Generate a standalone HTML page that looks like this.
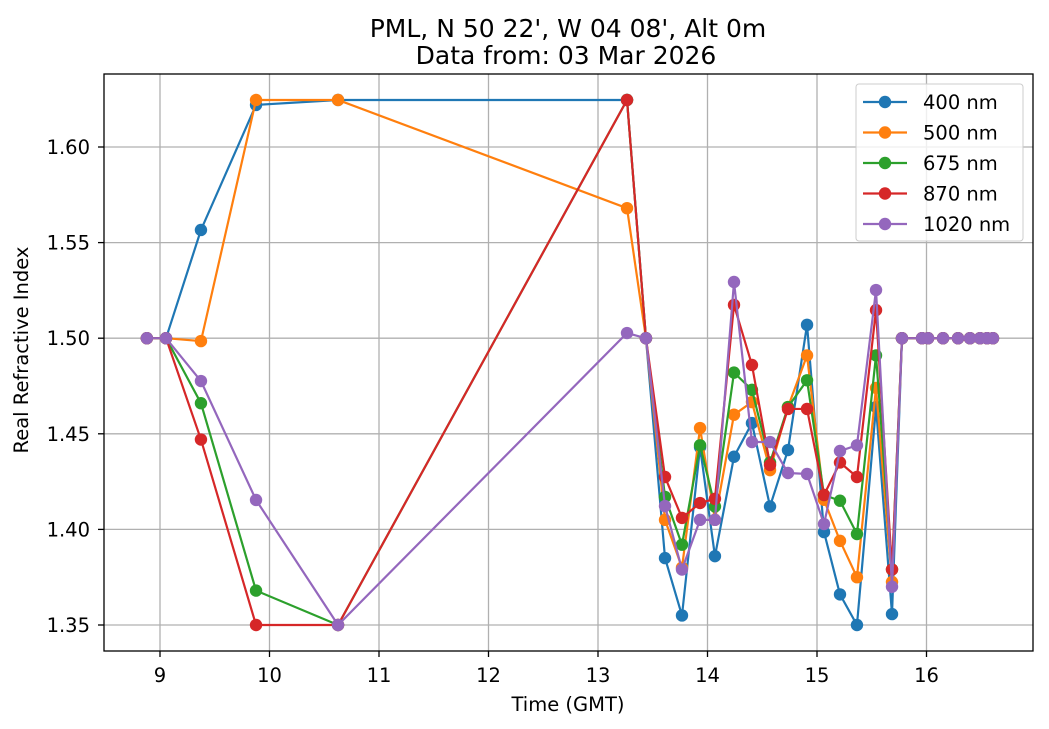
<!DOCTYPE html>
<html><head><meta charset="utf-8"><style>
body{margin:0;background:#fff;}
svg{display:block;font-family:"DejaVu Sans","Liberation Sans",sans-serif;}
</style></head><body>
<svg id="chart" width="1049" height="729">
<rect width="1049" height="729" fill="#fff"/>
<g id="grid"></g>
<g id="series"></g>
<rect x="104" y="74" width="929" height="577" fill="none" stroke="#000" stroke-width="1.3"/>
<g id="ticks"></g>
<text x="568" y="37" text-anchor="middle" font-size="25">PML, N 50 22', W 04 08', Alt 0m</text>
<text x="566" y="64" text-anchor="middle" font-size="25">Data from: 03 Mar 2026</text>
<text x="568" y="711" text-anchor="middle" font-size="19.5">Time (GMT)</text>
<text transform="translate(28,350) rotate(-90)" text-anchor="middle" font-size="19.5">Real Refractive Index</text>
<g id="legend"></g>
</svg>
<script>
const times=[8.88,9.055,9.374,9.877,10.626,13.265,13.438,13.612,13.767,13.932,14.068,14.242,14.406,14.571,14.735,14.909,15.064,15.21,15.365,15.539,15.685,15.776,15.959,16.014,16.151,16.288,16.397,16.489,16.553,16.607];
const s400=[1.5,1.5,1.5566,1.622,1.6246,1.6246,1.5,1.385,1.355,1.443,1.386,1.438,1.4556,1.412,1.4415,1.507,1.3986,1.366,1.35,1.464,1.3557,1.5,1.5,1.5,1.5,1.5,1.5,1.5,1.5,1.5];
const s500=[1.5,1.5,1.4985,1.6246,1.6246,1.568,1.5,1.405,1.38,1.453,1.405,1.46,1.4666,1.431,1.464,1.491,1.4155,1.394,1.375,1.474,1.3725,1.5,1.5,1.5,1.5,1.5,1.5,1.5,1.5,1.5];
const s675=[1.5,1.5,1.466,1.368,1.35,1.6246,1.5,1.417,1.392,1.444,1.412,1.482,1.473,1.435,1.464,1.478,1.418,1.415,1.3976,1.491,1.379,1.5,1.5,1.5,1.5,1.5,1.5,1.5,1.5,1.5];
const s870=[1.5,1.5,1.447,1.35,1.35,1.6246,1.5,1.4274,1.406,1.4138,1.416,1.5174,1.486,1.4337,1.463,1.463,1.418,1.435,1.4274,1.5147,1.379,1.5,1.5,1.5,1.5,1.5,1.5,1.5,1.5,1.5];
const s1020=[1.5,1.5,1.4776,1.4154,1.35,1.5027,1.5,1.4122,1.379,1.405,1.405,1.5294,1.4457,1.4457,1.4295,1.429,1.4028,1.441,1.444,1.5252,1.37,1.5,1.5,1.5,1.5,1.5,1.5,1.5,1.5,1.5];
const seriesNames=["400 nm","500 nm","675 nm","870 nm","1020 nm"];
const xTicks=[9,10,11,12,13,14,15,16];
const yTicks=[1.35,1.40,1.45,1.50,1.55,1.60];

const NS="http://www.w3.org/2000/svg";
const X=t=>160+(t-9)*109.5;
const Y=v=>625-(v-1.35)*1912;
const colors=["#1f77b4","#ff7f0e","#2ca02c","#d62728","#9467bd"];
const data=[s400,s500,s675,s870,s1020];
function mk(tag,attrs,parent){const e=document.createElementNS(NS,tag);for(const k in attrs)e.setAttribute(k,attrs[k]);parent.appendChild(e);return e;}
const grid=document.getElementById('grid'),ticks=document.getElementById('ticks');
xTicks.forEach(t=>{
  const l=mk('line',{x1:X(t),x2:X(t),y1:74,y2:651,stroke:'#b0b0b0','stroke-width':1.3},grid);
  
  
  mk('line',{x1:X(t),x2:X(t),y1:651,y2:657,stroke:'#000','stroke-width':1.3},ticks);
  const tx=mk('text',{x:X(t),y:682,'text-anchor':'middle','font-size':19.5},ticks);
  tx.textContent=t;
  
  
});
yTicks.forEach(v=>{
  const l=mk('line',{x1:104,x2:1033,y1:Y(v),y2:Y(v),stroke:'#b0b0b0','stroke-width':1.3},grid);
  
  
  mk('line',{x1:98,x2:104,y1:Y(v),y2:Y(v),stroke:'#000','stroke-width':1.3},ticks);
  const tx=mk('text',{x:90,y:Y(v)+7,'text-anchor':'end','font-size':19.5},ticks);
  tx.textContent=v.toFixed(2);
  
  
});
const sg=document.getElementById('series');
data.forEach((arr,i)=>{
  const g=mk('g',{},sg);
  
  
  const pts=arr.map((v,j)=>X(times[j])+','+Y(v)).join(' ');
  const pl=mk('polyline',{points:pts,fill:'none',stroke:colors[i],'stroke-width':2.2},g);
  
  
  arr.forEach((v,j)=>{
    const c=mk('circle',{cx:X(times[j]),cy:Y(v),r:6.2,fill:colors[i]},g);
    
    
  });
});
const lg=document.getElementById('legend');
mk('rect',{x:856,y:84,width:167,height:157,rx:3,fill:'#fff','fill-opacity':0.8,stroke:'#ccc'},lg);
seriesNames.forEach((n,i)=>{
  const y=102+i*30.5;
  const e=mk('g',{},lg);
  
  
  mk('line',{x1:863,x2:907,y1:y,y2:y,stroke:colors[i],'stroke-width':2.2},e);
  mk('circle',{cx:885,cy:y,r:6.2,fill:colors[i]},e);
  const t=mk('text',{x:923,y:y+7,'font-size':19.5},e);
  t.textContent=n;
});
</script>
</body></html>
